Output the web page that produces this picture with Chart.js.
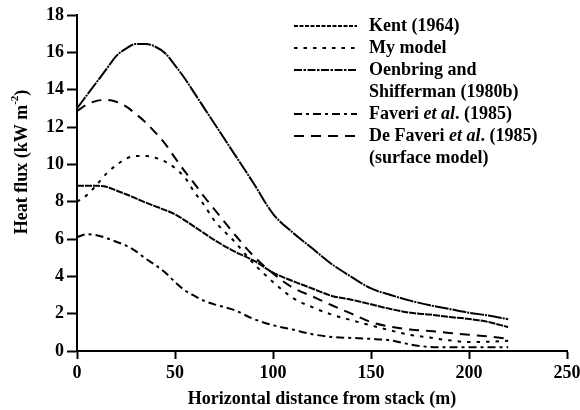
<!DOCTYPE html>
<html>
<head>
<meta charset="utf-8">
<script src="https://cdn.jsdelivr.net/npm/chart.js@4.4.0/dist/chart.umd.min.js"></script>
<style>
  html, body { margin: 0; padding: 0; background: #fff; }
  #wrap { width: 580px; height: 410px; }
</style>
</head>
<body>
<div id="wrap"><canvas id="c" width="580" height="410"></canvas></div>
<script>
// distance from stack (m), shared by all curves
const dist = [0, 5, 10, 15, 20, 25, 30, 35, 40, 45, 50, 55, 60, 65, 70, 80, 90, 100, 110, 120, 130, 140, 150, 160, 170, 180, 190, 200, 210, 220];

// heat flux (kW m-2)
const kent      = [8.85, 8.85, 8.85, 8.8, 8.6, 8.4, 8.18, 7.95, 7.75, 7.55, 7.32, 7.0, 6.65, 6.3, 5.95, 5.35, 4.85, 4.2, 3.75, 3.35, 2.95, 2.75, 2.5, 2.25, 2.05, 1.95, 1.82, 1.72, 1.55, 1.28];
const myModel   = [8.0, 8.35, 8.9, 9.5, 9.95, 10.3, 10.45, 10.45, 10.35, 10.15, 9.8, 9.3, 8.5, 7.8, 7.0, 5.9, 4.7, 3.7, 2.85, 2.35, 1.95, 1.65, 1.37, 1.1, 0.86, 0.72, 0.57, 0.48, 0.5, 0.55];
const oenbring  = [13.0, 13.7, 14.4, 15.1, 15.8, 16.2, 16.45, 16.45, 16.3, 15.95, 15.3, 14.6, 13.8, 13.0, 12.2, 10.6, 9.0, 7.35, 6.35, 5.5, 4.65, 3.97, 3.35, 3.0, 2.7, 2.45, 2.25, 2.05, 1.9, 1.7];
const faveri    = [6.1, 6.25, 6.2, 6.05, 5.85, 5.65, 5.35, 4.95, 4.6, 4.2, 3.7, 3.25, 2.95, 2.68, 2.5, 2.2, 1.72, 1.38, 1.15, 0.9, 0.75, 0.7, 0.65, 0.57, 0.35, 0.22, 0.2, 0.2, 0.2, 0.2];
const deFaveri  = [12.85, 13.2, 13.4, 13.45, 13.35, 13.1, 12.7, 12.25, 11.7, 11.1, 10.35, 9.62, 8.95, 8.25, 7.6, 6.3, 5.1, 4.15, 3.4, 2.93, 2.45, 2.0, 1.55, 1.3, 1.15, 1.07, 0.97, 0.87, 0.78, 0.66];

const xTicks = [0, 50, 100, 150, 200, 250];
const yTicks = [0, 2, 4, 6, 8, 10, 12, 14, 16, 18];

const serif = '"Liberation Serif", "Times New Roman", serif';

const series = [
    { name: 'Kent (1964)', values: kent, dash: [7, 1] },
    { name: 'My model', values: myModel, dash: [3.5, 6] },
    { name: 'Oenbring and Shifferman (1980b)', values: oenbring, dash: [14, 1, 2, 1] },
    { name: 'Faveri et al. (1985)', values: faveri, dash: [8, 4, 3, 4] },
    { name: 'De Faveri et al. (1985) (surface model)', values: deFaveri, dash: [10, 7] }
];

// legend samples are a little more open than the plotted lines
const legendDash = [[4, 1.5], [3.5, 6], [8, 1.5, 2.5, 1.5], [8, 4, 3, 4], [10, 7]];

// legend rows: pieces of text [text, italic], and which series sample sits on the row
const legendRows = [
    { s: 0, parts: [['Kent (1964)', false]] },
    { s: 1, parts: [['My model', false]] },
    { s: 2, parts: [['Oenbring and', false]] },
    { s: -1, parts: [['Shifferman (1980b)', false]] },
    { s: 3, parts: [['Faveri ', false], ['et al', true], ['. (1985)', false]] },
    { s: 4, parts: [['De Faveri ', false], ['et al', true], ['. (1985)', false]] },
    { s: -1, parts: [['(surface model)', false]] }
];

// --- legend and axis titles drawn on the canvas ---
const decor = {
    id: 'decor',
    afterDraw(chart) {
        const ctx = chart.ctx;
        ctx.save();
        ctx.fillStyle = '#000';
        ctx.strokeStyle = '#000';
        ctx.textBaseline = 'middle';

        // legend
        legendRows.forEach((row, i) => {
            const y = 26 + i * 22;
            if (row.s >= 0) {
                ctx.lineWidth = 2;
                ctx.setLineDash(legendDash[row.s]);
                ctx.beginPath();
                ctx.moveTo(294, y);
                ctx.lineTo(357, y);
                ctx.stroke();
                ctx.setLineDash([]);
            }
            let x = 369;
            row.parts.forEach(([t, it]) => {
                ctx.font = (it ? 'italic ' : '') + 'bold 18px ' + serif;
                ctx.textAlign = 'left';
                ctx.fillText(t, x, y);
                x += ctx.measureText(t).width;
            });
        });

        // x title
        ctx.font = 'bold 18px ' + serif;
        ctx.textAlign = 'center';
        ctx.fillText('Horizontal distance from stack (m)', 322, 399);

        // y title, rotated, with superscript
        ctx.translate(22, 162);
        ctx.rotate(-Math.PI / 2);
        const main = 'Heat flux (kW m';
        const sup = '-2';
        const end = ')';
        ctx.font = 'bold 18px ' + serif;
        const w1 = ctx.measureText(main).width;
        const w3 = ctx.measureText(end).width;
        ctx.font = 'bold 11px ' + serif;
        const w2 = ctx.measureText(sup).width;
        let x0 = -(w1 + w2 + w3) / 2;
        ctx.textAlign = 'left';
        ctx.font = 'bold 18px ' + serif;
        ctx.fillText(main, x0, 0);
        ctx.font = 'bold 11px ' + serif;
        ctx.fillText(sup, x0 + w1, -7);
        ctx.font = 'bold 18px ' + serif;
        ctx.fillText(end, x0 + w1 + w2, 0);
        ctx.restore();
    }
};

const ctx = document.getElementById('c').getContext('2d');
new Chart(ctx, {
    type: 'line',
    data: {
        datasets: series.map(s => ({
            label: s.name,
            data: dist.map((d, i) => ({ x: d, y: s.values[i] })),
            borderColor: '#000',
            borderWidth: 2,
            borderDash: s.dash,
            pointRadius: 0,
            fill: false,
            cubicInterpolationMode: 'monotone'
        }))
    },
    options: {
        responsive: false,
        animation: false,
        devicePixelRatio: 1,
        layout: { padding: { top: 15, right: 13, left: 0, bottom: 0 } },
        plugins: { legend: { display: false }, tooltip: { enabled: false } },
        scales: {
            x: {
                type: 'linear',
                min: 0, max: 250,
                afterBuildTicks: (s) => { s.ticks = xTicks.map(v => ({ value: v })); },
                afterFit: (s) => { s.height = 59; s.paddingLeft = 0; s.paddingRight = 0; },
                ticks: { color: '#000', padding: 4, maxRotation: 0, font: { family: serif, size: 18, weight: 'bold' } },
                grid: { drawOnChartArea: false, drawTicks: true, tickLength: 8, tickWidth: 2, tickColor: '#000' },
                border: { display: true, color: '#000', width: 2 }
            },
            y: {
                min: 0, max: 18,
                afterBuildTicks: (s) => { s.ticks = yTicks.map(v => ({ value: v })); },
                afterFit: (s) => { s.width = 77; s.paddingTop = 0; s.paddingBottom = 0; },
                ticks: { color: '#000', padding: 3, font: { family: serif, size: 18, weight: 'bold' } },
                grid: { drawOnChartArea: false, drawTicks: true, tickLength: 10, tickWidth: 2, tickColor: '#000' },
                border: { display: true, color: '#000', width: 2 }
            }
        }
    },
    plugins: [decor]
});
</script>
</body>
</html>
